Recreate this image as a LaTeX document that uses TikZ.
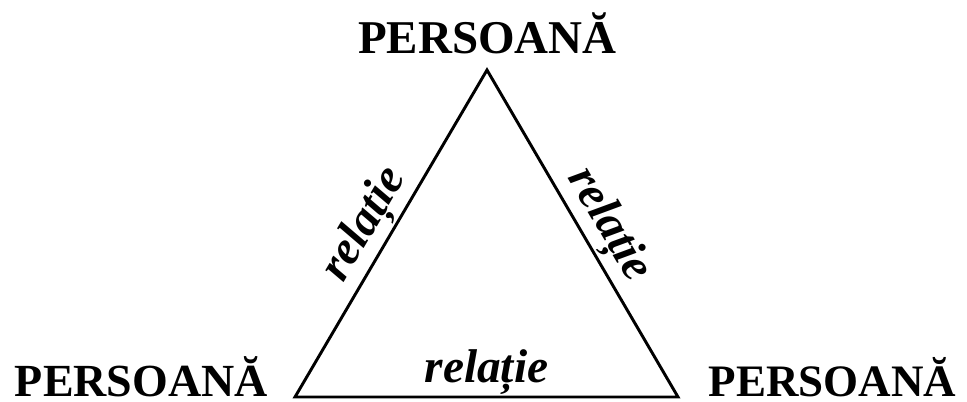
\documentclass[tikz,border=0pt]{standalone}
\usepackage{fontspec}
\setmainfont{Liberation Serif}
\tikzset{
  person/.style={inner sep=0pt, anchor=base, text depth=0pt, font=\fontsize{#1}{#1}\selectfont\bfseries},
  rel/.style={inner sep=1.5pt, font=\fontsize{35.5}{40}\selectfont\bfseries\itshape},
  edge/.style={line width=2.2pt, line join=miter}
}
\begin{document}
\begin{tikzpicture}[x=0.75pt,y=-0.75pt]
\useasboundingbox (0,0) rectangle (967,401);
\coordinate (A) at (487,70);
\coordinate (B) at (295,397);
\coordinate (C) at (678,397);
\draw[edge] (B) -- node[rel, sloped, above, pos=0.485] (rl) {relație} (A)
  -- node[rel, sloped, above, pos=0.515] (rr) {relație} (C)
  -- node[rel, above, pos=0.5, inner sep=0.5pt] (rb) {relație} (B) -- cycle;
\node[person=35.25] (pt) at (487.5,53) {PERSOANĂ};
\node[person=34.5] (pl) at (141.5,396) {PERSOANĂ};
\node[person=33.75] (pr) at (832.5,396) {PERSOANĂ};
\end{tikzpicture}
\end{document}
